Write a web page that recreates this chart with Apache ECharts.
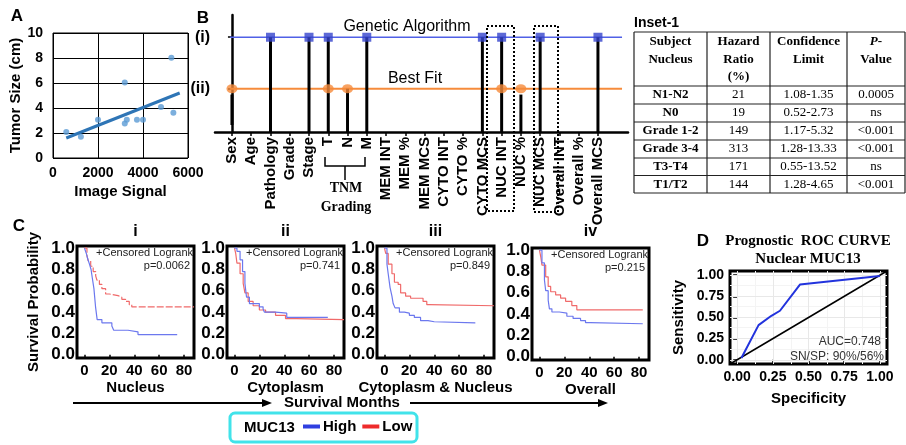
<!DOCTYPE html>
<html><head><meta charset="utf-8">
<script src="https://cdn.jsdelivr.net/npm/echarts@6/dist/echarts.min.js"></script>
<style>html,body{margin:0;padding:0;background:#fff}#c{width:906px;height:445px}</style>
</head><body><div id="c"></div>
<script>
const SANS='"Liberation Sans", Arial, Helvetica, sans-serif';
const SERIF='"Liberation Serif", "Times New Roman", serif';

// ---------- Panel A data ----------
const imageSignal=[590,1240,2000,3190,3190,3280,3730,4000,4800,5260,5350];
const tumorSize=[2.08,1.71,3.07,6.05,2.77,3.07,3.07,3.07,4.08,8.03,3.63];
const trendSignal=[590,5630];
const trendSize=[1.6,5.2];

// ---------- Panel B data ----------
const features=['Sex','Age','Pathology','Grade','Stage','T','N','M','MEM INT','MEM %','MEM MCS','CYTO INT','CYTO %','CYTO MCS','NUC INT','NUC %','NUC MCS','Overall INT','Overall %','Overall MCS'];
const gaLevel=0.81, bfLevel=0.37;
const gaFeatures=['Pathology','Stage','T','M','CYTO MCS','NUC INT','NUC MCS','Overall MCS'];
const bfFeatures=['Sex','T','N','NUC INT','NUC %'];
const stemBase=[0.06,null,0,null,0,0,0,0,null,null,null,null,null,0,0,0,0,null,null,0];
const stemTop =[0.32,null,0.81,null,0.81,0.81,0.37,0.81,null,null,null,null,null,0.81,0.81,0.32,0.81,null,null,0.81];
const levelSpan=[-0.1,20.25];
const levelLabels=['(ii)','(i)'];

// ---------- Inset table ----------
const tableHeader=['Subject\nNucleus','Hazard\nRatio\n(%)','Confidence\nLimit','{it|P}-\nValue'];
const tableSubjects=['N1-N2','N0','Grade 1-2','Grade 3-4','T3-T4','T1/T2'];
const tableHR=['21','19','149','313','171','144'];
const tableCI=['1.08-1.35','0.52-2.73','1.17-5.32','1.28-13.33','0.55-13.52','1.28-4.65'];
const tableP=['0.0005','ns','<0.001','<0.001','ns','<0.001'];

// ---------- Panel C (Kaplan-Meier) ----------
const kmMonthTicks=[0,20,40,60,80];
const kmSurvTicks=[0,0.2,0.4,0.6,0.8,1.0];
const kmNucleusHigh=[[0,1.0],[1.5,0.95],[2.6,0.9],[4,0.85],[5.3,0.8],[6.3,0.72],[7.6,0.62],[8.9,0.45],[10.2,0.33],[14,0.3],[22,0.27],[23.5,0.23],[35,0.215],[43,0.19],[74.5,0.19]];
const kmNucleusLow=[[0,1.0],[2,0.93],[3,0.88],[5,0.83],[7,0.78],[9,0.74],[10,0.7],[12,0.66],[14,0.62],[17,0.57],[20,0.555],[27,0.54],[30,0.52],[33,0.5],[36,0.47],[38,0.45],[88,0.45]];
const kmCytoHigh=[[0,1.0],[2,0.97],[4.5,0.89],[6.5,0.78],[8.4,0.67],[9.7,0.54],[12,0.48],[20,0.45],[23,0.43],[24,0.4],[33,0.39],[42,0.35],[75,0.35]];
const kmCytoLow=[[0,1.0],[1,0.95],[2,0.86],[4.5,0.76],[7,0.67],[8.4,0.58],[11,0.5],[15,0.46],[20,0.42],[25,0.4],[33,0.37],[41,0.34],[50,0.33],[88,0.33]];
const kmBothHigh=[[0,1.0],[2,0.85],[3,0.76],[4.5,0.63],[6,0.55],[7,0.48],[8.5,0.44],[12,0.4],[16,0.39],[20,0.37],[24,0.35],[29,0.32],[35,0.31],[40,0.3],[73,0.3]];
const kmBothLow=[[0,1.0],[1,0.95],[3,0.85],[6,0.76],[8,0.68],[11,0.66],[13,0.58],[17,0.55],[21,0.53],[31,0.5],[34,0.47],[36,0.46],[88,0.46]];
const kmOverallHigh=[[0,1.0],[2,0.88],[4,0.72],[5,0.62],[7,0.53],[8,0.45],[10,0.42],[16,0.41],[22,0.38],[27,0.36],[33,0.34],[37,0.32],[41,0.31],[83,0.31]];
const kmOverallLow=[[0,1.0],[1,0.94],[2,0.86],[5,0.75],[7,0.66],[9,0.61],[13,0.58],[17,0.55],[21,0.52],[26,0.48],[30,0.44],[83,0.44]];
const kmTitles=['i','ii','iii','iv'];
const kmNames=['Nucleus','Cytoplasm','Cytoplasm & Nucleus','Overall'];
const kmPValues=['p=0.0062','p=0.741','p=0.849','p=0.215'];
const kmHigh=[kmNucleusHigh,kmCytoHigh,kmBothHigh,kmOverallHigh];
const kmLow=[kmNucleusLow,kmCytoLow,kmBothLow,kmOverallLow];

// ---------- Panel D (ROC) ----------
const rocSpecificity=[0.03,0.15,0.24,0.3,0.44,1.0];
const rocSensitivity=[0.02,0.41,0.52,0.58,0.89,0.99];
const rocTicks=[0,0.25,0.5,0.75,1.0];
const rocMinor=[0.125,0.375,0.625,0.875];

// ---------- layout ----------
const kmLeft=[77,227,377,532], kmTop=[246,246,246,248], kmW=117, kmH=112;
const boldSans=(s)=>({fontFamily:SANS,fontWeight:'bold',fontSize:s,color:'#000'});

const grids=[
  {left:53,top:33,width:135,height:125,show:true,borderColor:'#000',borderWidth:1},
  {left:215,top:15,width:413,height:117},
];
kmLeft.forEach((l,i)=>grids.push({left:l,top:kmTop[i],width:kmW,height:kmH,show:true,borderColor:'#000',borderWidth:3}));
grids.push({left:730,top:271,width:157,height:93,show:true,borderColor:'#000',borderWidth:3});

const xAxes=[
  {gridIndex:0,type:'value',min:0,max:6000,interval:2000,axisLine:{show:false},axisTick:{show:false},
   splitLine:{lineStyle:{color:'#000',width:1}},axisLabel:{...boldSans(14),margin:8,formatter:v=>String(v)},
   name:'Image Signal',nameLocation:'middle',nameGap:26,nameTextStyle:boldSans(15)},
  {gridIndex:1,type:'value',min:-0.88,max:20.56,splitLine:{show:false},
   axisLine:{lineStyle:{color:'#000',width:2.5}},
   axisTick:{customValues:features.map((f,i)=>i),length:4,lineStyle:{color:'#000',width:1.5}},
   axisLabel:{customValues:features.map((f,i)=>i),rotate:90,margin:5,formatter:v=>features[Math.round(v)],...boldSans(15)}},
];
const yAxes=[
  {gridIndex:0,type:'value',min:0,max:10,interval:2,axisLine:{show:false},axisTick:{show:false},
   splitLine:{lineStyle:{color:'#000',width:1}},axisLabel:{...boldSans(14),margin:10},
   name:'Tumor Size (cm)',nameLocation:'middle',nameGap:27,nameTextStyle:boldSans(15)},
  {gridIndex:1,type:'value',min:0,max:1,splitLine:{show:false},
   axisLine:{lineStyle:{color:'#000',width:2.5}},
   axisTick:{customValues:[bfLevel,gaLevel],length:4,lineStyle:{color:'#000',width:1.5}},
   axisLabel:{customValues:[bfLevel,gaLevel],margin:5,formatter:v=>Math.abs(v-gaLevel)<1e-6?levelLabels[1]:levelLabels[0],...boldSans(16)}},
];
kmLeft.forEach((l,i)=>{
  xAxes.push({gridIndex:i+2,type:'value',min:-6,max:88,axisLine:{show:false},splitLine:{show:false},
    axisTick:{customValues:kmMonthTicks,length:3,lineStyle:{color:'#000',width:1.5}},
    axisLabel:{customValues:kmMonthTicks,margin:5,...boldSans(15)},
    name:kmNames[i],nameLocation:'middle',nameGap:22,nameTextStyle:boldSans(15)});
  yAxes.push({gridIndex:i+2,type:'value',min:-0.03,max:1.02,axisLine:{show:false},splitLine:{show:false},axisTick:{show:false},
    axisLabel:{customValues:kmSurvTicks,margin:2,formatter:v=>v.toFixed(1),...boldSans(17)},
    name:i===0?'Survival Probability':'',nameLocation:'middle',nameGap:36,nameTextStyle:boldSans(15)});
});
xAxes.push({gridIndex:6,type:'value',min:-0.05,max:1.05,axisLine:{show:false},splitLine:{show:false},
  axisTick:{customValues:rocTicks,length:4,lineStyle:{color:'#000',width:1.5}},
  axisLabel:{customValues:rocTicks,margin:6,formatter:v=>v.toFixed(2),...boldSans(14)},
  name:'Specificity',nameLocation:'middle',nameGap:27,nameTextStyle:boldSans(15)});
yAxes.push({gridIndex:6,type:'value',min:-0.05,max:1.05,axisLine:{show:false},splitLine:{show:false},
  axisTick:{customValues:rocTicks,length:4,lineStyle:{color:'#000',width:1.5}},
  axisLabel:{customValues:rocTicks,margin:6,formatter:v=>v.toFixed(2),...boldSans(14)},
  name:'Sensitivity',nameLocation:'middle',nameGap:44,nameTextStyle:boldSans(15)});

const series=[];
// A
series.push({type:'scatter',xAxisIndex:0,yAxisIndex:0,symbolSize:6,itemStyle:{color:'#5b9bd5'},
  data:imageSignal.map((x,i)=>[x,tumorSize[i]]),z:3});
series.push({type:'line',xAxisIndex:0,yAxisIndex:0,symbol:'none',lineStyle:{color:'#2e75b6',width:3},
  data:trendSignal.map((x,i)=>[x,trendSize[i]]),z:4});
// B
series.push({type:'line',xAxisIndex:1,yAxisIndex:1,symbol:'none',lineStyle:{color:'#5060e6',width:1.5},data:levelSpan.map(x=>[x,gaLevel]),z:2});
series.push({type:'line',xAxisIndex:1,yAxisIndex:1,symbol:'none',lineStyle:{color:'#f68b3b',width:2},data:levelSpan.map(x=>[x,bfLevel]),z:2});
const stems=[];
features.forEach((f,i)=>{if(stemTop[i]!=null)stems.push([i,stemBase[i],stemTop[i]]);});
series.push({type:'custom',xAxisIndex:1,yAxisIndex:1,data:stems,z:3,encode:{x:0,y:[1,2]},
  renderItem:(p,api)=>{const a=api.coord([api.value(0),api.value(1)]),b=api.coord([api.value(0),api.value(2)]);
    return {type:'line',shape:{x1:a[0],y1:a[1],x2:b[0],y2:b[1]},style:{stroke:'#000',lineWidth:3}};}});
series.push({type:'scatter',xAxisIndex:1,yAxisIndex:1,symbol:'rect',symbolSize:9,itemStyle:{color:'#3444cc'},
  data:gaFeatures.map(f=>[features.indexOf(f),gaLevel]),z:5});
series.push({type:'scatter',xAxisIndex:1,yAxisIndex:1,symbol:'circle',symbolSize:[11,9],itemStyle:{color:'#f68b3b'},
  data:bfFeatures.map(f=>[features.indexOf(f),bfLevel]),z:5});
// C
for(let i=0;i<4;i++){
  series.push({name:'Low',type:'line',step:'end',xAxisIndex:i+2,yAxisIndex:i+2,symbol:'none',
    itemStyle:{color:'#ee2b2b'},lineStyle:{color:'#f06a6a',width:1.2,type:i===0?[7,2]:'solid'},data:kmLow[i],z:3});
  series.push({name:'High',type:'line',step:'end',xAxisIndex:i+2,yAxisIndex:i+2,symbol:'none',
    itemStyle:{color:'#2f3fe0'},lineStyle:{color:'#6c78ee',width:1.2},data:kmHigh[i],z:3});
}
// D: background grid (own series, below the lines)
const gl=(v,c)=>[{xAxis:v,lineStyle:{color:c}},{yAxis:v,lineStyle:{color:c}}];
series.push({type:'line',xAxisIndex:6,yAxisIndex:6,symbol:'none',data:[],z:1,zlevel:0,
  markLine:{silent:true,symbol:'none',label:{show:false},lineStyle:{type:'solid',width:1},z:1,
    data:[].concat(...rocMinor.map(v=>gl(v,'#f4f4f4')),...rocTicks.map(v=>gl(v,'#e8e8e8')))}});
series.push({type:'line',xAxisIndex:6,yAxisIndex:6,symbol:'none',lineStyle:{color:'#000',width:1.5},
  data:[[-0.05,-0.05],[1.05,1.05]],z:5});
series.push({type:'line',xAxisIndex:6,yAxisIndex:6,symbol:'none',lineStyle:{color:'#2233dd',width:2},
  data:rocSpecificity.map((x,i)=>[x,rocSensitivity[i]]),z:6});

// ---------- graphics ----------
const G=[];
const T=(x,y,text,o={})=>G.push({type:'text',x,y,z:10,style:Object.assign({text,fontFamily:SANS,fontSize:15,fontWeight:'bold',fill:'#000',align:'center',verticalAlign:'middle'},o)});
const L=(x1,y1,x2,y2,o={})=>G.push({type:'line',z:10,shape:{x1,y1,x2,y2},style:Object.assign({stroke:'#000',lineWidth:1.5},o)});
// panel letters
T(17,16,'A',{fontSize:17});T(203,18,'B',{fontSize:17});T(19,226,'C',{fontSize:17});T(703,241,'D',{fontSize:17});
// B texts
T(407,27,'Genetic Algorithm',{fontWeight:'normal',fontSize:16});
T(415,79,'Best Fit',{fontWeight:'normal',fontSize:16});
G.push({type:'rect',z:10,shape:{x:487,y:26,width:27,height:185},style:{fill:'none',stroke:'#000',lineWidth:2,lineDash:[2,2]}});
G.push({type:'rect',z:10,shape:{x:534,y:26,width:24,height:186},style:{fill:'none',stroke:'#000',lineWidth:2,lineDash:[2,2]}});
G.push({type:'polyline',z:10,shape:{points:[[325,157],[325,166],[365,166],[365,157]]},style:{stroke:'#000',lineWidth:1.5,fill:'none'}});
L(345,166,345,180);
T(346,188,'TNM',{fontFamily:SERIF,fontSize:14});
T(346,207,'Grading',{fontFamily:SERIF,fontSize:14});
// Inset table
T(634,23,'Inset-1',{align:'left',fontSize:14});
const cols=[634,707,770,847,905], rows=[32,86,104,122,140,158,175.5,193];
rows.forEach(y=>L(cols[0],y,cols[4],y,{lineWidth:1.2,stroke:'#222'}));
cols.forEach(x=>L(x,rows[0],x,rows[7],{lineWidth:1.2,stroke:'#222'}));
tableHeader.forEach((h,c)=>T((cols[c]+cols[c+1])/2,33,h,{fontFamily:SERIF,fontSize:13,verticalAlign:'top',lineHeight:17.5,rich:{it:{fontStyle:'italic',fontFamily:SERIF,fontSize:13,fontWeight:'bold'}}}));
const tcols=[tableSubjects,tableHR,tableCI,tableP];
tableSubjects.forEach((s,r)=>{
  const y=(rows[r+1]+rows[r+2])/2;
  tcols.forEach((col,c)=>T((cols[c]+cols[c+1])/2,y,col[r],{fontFamily:SERIF,fontSize:13,fontWeight:c===0?'bold':'normal'}));
});
// KM texts
kmLeft.forEach((l,i)=>{
  T(l+kmW/2,232,kmTitles[i],{fontSize:16});
  T(l+kmW-1,kmTop[i]+7,'+Censored Logrank',{fontWeight:'normal',fontSize:11,align:'right',fill:'#222'});
  T(l+kmW-4,kmTop[i]+20,kmPValues[i],{fontWeight:'normal',fontSize:11,align:'right',fill:'#222'});
});
L(73,403,264,403,{lineWidth:2});
G.push({type:'polygon',z:10,shape:{points:[[262,399],[272,403],[262,407]]},style:{fill:'#000'}});
T(342,403,'Survival Months');
L(410,403,600,403,{lineWidth:2});
G.push({type:'polygon',z:10,shape:{points:[[598,399],[608,403],[598,407]]},style:{fill:'#000'}});
G.push({type:'rect',z:10,shape:{x:230,y:413,width:187,height:29,r:5},style:{fill:'none',stroke:'#41e3ea',lineWidth:3}});
T(244,428,'MUC13',{align:'left'});
// D texts
T(808,241,'Prognostic  ROC CURVE',{fontFamily:SERIF,fontSize:15});
T(808,259,'Nuclear MUC13',{fontFamily:SERIF,fontSize:15});
T(881,342,'AUC=0.748',{fontWeight:'normal',fontSize:12,align:'right',fill:'#333'});
T(884,357,'SN/SP: 90%/56%',{fontWeight:'normal',fontSize:12,align:'right',fill:'#333'});

const chart=echarts.init(document.getElementById('c'),null,{renderer:'canvas'});
chart.setOption({
  animation:false,
  grid:grids,xAxis:xAxes,yAxis:yAxes,series,
  legend:{data:[{name:'High',itemStyle:{color:'#2f3fe0'}},{name:'Low',itemStyle:{color:'#ee2b2b'}}],
    left:303,top:419,itemWidth:17,itemHeight:4,itemGap:6,icon:'rect',selectedMode:false,padding:0,
    textStyle:{...boldSans(15),padding:[0,0,0,-2]}},
  graphic:G
});
</script></body></html>
